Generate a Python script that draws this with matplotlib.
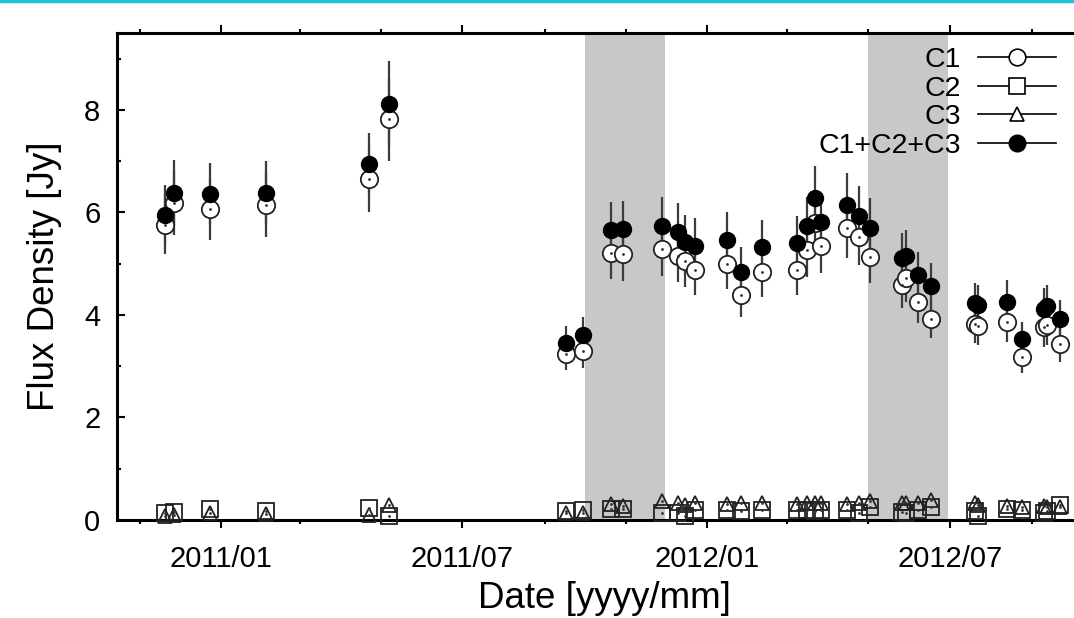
import numpy as np
import pandas as pd
import matplotlib
matplotlib.use("Agg")
import matplotlib.pyplot as plt
import matplotlib.dates as mdates
from matplotlib.lines import Line2D
from matplotlib.ticker import MultipleLocator

plt.rcParams['font.family'] = ['Liberation Sans', 'DejaVu Sans']

dates = pd.to_datetime([
    '2010-11-20', '2010-11-27', '2010-12-24', '2011-02-04', '2011-04-22', '2011-05-07',
    '2011-09-17', '2011-09-30',
    '2011-10-21', '2011-10-30', '2011-11-28', '2011-12-10', '2011-12-15', '2011-12-23',
    '2012-01-16', '2012-01-26', '2012-02-11',
    '2012-03-08', '2012-03-16', '2012-03-22', '2012-03-26',
    '2012-04-15', '2012-04-24', '2012-05-02', '2012-05-26', '2012-05-29', '2012-06-07',
    '2012-06-17',
    '2012-07-20', '2012-07-22', '2012-08-13', '2012-08-24', '2012-09-10', '2012-09-12',
    '2012-09-22'])

# C1+C2+C3 (filled circles)
total = [5.95, 6.38, 6.36, 6.38, 6.95, 8.12, 3.45, 3.61, 5.66, 5.68, 5.74, 5.62, 5.42, 5.35,
         5.46, 4.84, 5.33, 5.40, 5.74, 6.28, 5.81, 6.15, 5.93, 5.70, 5.11, 5.15, 4.78, 4.57,
         4.23, 4.20, 4.26, 3.53, 4.12, 4.18, 3.92]
err_total = [0.59, 0.64, 0.60, 0.63, 0.60, 0.84, 0.33, 0.35, 0.55, 0.55, 0.57, 0.57, 0.53, 0.55,
             0.55, 0.49, 0.53, 0.53, 0.56, 0.62, 0.57, 0.61, 0.59, 0.59, 0.49, 0.51, 0.45, 0.45,
             0.39, 0.39, 0.43, 0.33, 0.41, 0.41, 0.37]

# C1 (open circles)
c1 = [5.76, 6.19, 6.07, 6.15, 6.65, 7.82, 3.24, 3.30, 5.21, 5.19, 5.29, 5.15, 5.05, 4.88,
      4.99, 4.39, 4.84, 4.88, 5.27, 5.80, 5.35, 5.69, 5.52, 5.14, 4.59, 4.72, 4.25, 3.92,
      3.83, 3.79, 3.86, 3.18, 3.76, 3.80, 3.43]
err_c1 = [0.57, 0.64, 0.60, 0.63, 0.64, 0.81, 0.31, 0.33, 0.51, 0.53, 0.53, 0.51, 0.51, 0.49,
          0.49, 0.43, 0.49, 0.49, 0.52, 0.56, 0.53, 0.57, 0.55, 0.51, 0.45, 0.47, 0.41, 0.37,
          0.37, 0.37, 0.39, 0.31, 0.39, 0.39, 0.35]

# C2 (squares) and C3 (triangles)
c2 = [0.14, 0.16, 0.21, 0.18, 0.24, 0.08, 0.18, 0.20, 0.21, 0.21, 0.13, 0.14, 0.08, 0.20,
      0.20, 0.18, 0.20, 0.20, 0.20, 0.18, 0.20, 0.20, 0.13, 0.25, 0.16, 0.14, 0.20, 0.25,
      0.18, 0.08, 0.21, 0.20, 0.13, 0.18, 0.29]
c3 = [0.08, 0.10, 0.14, 0.12, 0.10, 0.29, 0.13, 0.14, 0.31, 0.27, 0.37, 0.33, 0.29, 0.33,
      0.31, 0.33, 0.33, 0.31, 0.33, 0.33, 0.33, 0.31, 0.33, 0.37, 0.33, 0.33, 0.33, 0.39,
      0.33, 0.30, 0.27, 0.25, 0.27, 0.25, 0.25]

# grey shaded periods
shade_start = pd.to_datetime(['2011-10-01', '2012-05-01'])
shade_end = pd.to_datetime(['2011-11-30', '2012-06-30'])

fig = plt.figure(figsize=(10.74, 6.18), dpi=100)
ax = fig.add_axes([117/1074, 98/618, 974/1074, 487/618])

for s, e in zip(shade_start, shade_end):
    ax.axvspan(s, e, color='#c8c8c8', lw=0, zorder=0)

ecol = '#3c3c3c'
ax.errorbar(dates, c1, yerr=err_c1, fmt='none', ecolor=ecol, elinewidth=1.6, capsize=0, zorder=2)
ax.errorbar(dates, total, yerr=err_total, fmt='none', ecolor=ecol, elinewidth=1.6, capsize=0, zorder=2)

ax.plot(dates, c2, ls='none', marker='s', ms=12, mfc='none', mec='#222222', mew=1.3,
        zorder=3, clip_on=False)
ax.plot(dates, c3, ls='none', marker='^', ms=10, mfc='none', mec='#222222', mew=1.3,
        zorder=3, clip_on=False)
ax.plot(dates, c2, ls='none', marker='.', ms=2, color='#333333', zorder=3)
ax.plot(dates, c3, ls='none', marker='.', ms=2, color='#333333', zorder=3)
ax.plot(dates, c1, ls='none', marker='o', ms=12.5, mfc='white', mec='#222222', mew=1.3, zorder=4)
ax.plot(dates, c1, ls='none', marker='.', ms=2, color='#333333', zorder=4)
ax.plot(dates, total, ls='none', marker='o', ms=11.5, mfc='black', mec='black', zorder=5)

ax.set_xlim(pd.Timestamp('2010-10-15'), pd.Timestamp('2012-10-15'))
ax.set_ylim(0, 9.5)

ax.xaxis.set_major_locator(mdates.MonthLocator(bymonth=[1, 7]))
ax.xaxis.set_minor_locator(mdates.MonthLocator(bymonth=[3, 5, 9, 11]))
ax.xaxis.set_major_formatter(mdates.DateFormatter('%Y/%m'))
ax.yaxis.set_major_locator(MultipleLocator(2))
ax.yaxis.set_minor_locator(MultipleLocator(1))

ax.tick_params(axis='x', which='both', direction='out', top=True, labeltop=False,
               labelsize=21, pad=12)
ax.tick_params(axis='y', which='both', direction='in', right=False, labelsize=21, pad=12)
ax.tick_params(which='major', length=6, width=1.5)
ax.tick_params(which='minor', length=3, width=1.5)

for side in ['left', 'bottom', 'top']:
    ax.spines[side].set_linewidth(2.2)
ax.spines['right'].set_visible(False)

ax.set_xlabel('Date [yyyy/mm]', fontsize=26.5, labelpad=6)
ax.set_ylabel('Flux Density [Jy]', fontsize=26.5, labelpad=16)

handles = [
    Line2D([], [], color='black', lw=1.2, marker='o', ms=12, mfc='white', mec='black', mew=1.2),
    Line2D([], [], color='black', lw=1.2, marker='s', ms=12, mfc='white', mec='black', mew=1.2),
    Line2D([], [], color='black', lw=1.2, marker='^', ms=10, mfc='white', mec='black', mew=1.2),
    Line2D([], [], color='black', lw=1.2, marker='o', ms=12, mfc='black', mec='black'),
]
labels = ['C1', 'C2', 'C3', 'C1+C2+C3']
ax.legend(handles, labels, loc='upper right', bbox_to_anchor=(1056/1074, 1 - 47/618),
          bbox_transform=fig.transFigure, frameon=False, markerfirst=False, fontsize=20.5,
          handlelength=2.75, handletextpad=0.6, labelspacing=0.09, borderpad=0,
          borderaxespad=0)

# thin cyan strip along the top edge
fig.add_artist(Line2D([0, 1], [1 - 1.2/618, 1 - 1.2/618], transform=fig.transFigure,
                      color='#19c3d8', lw=2.5))

fig.savefig('out.png', dpi=100)
